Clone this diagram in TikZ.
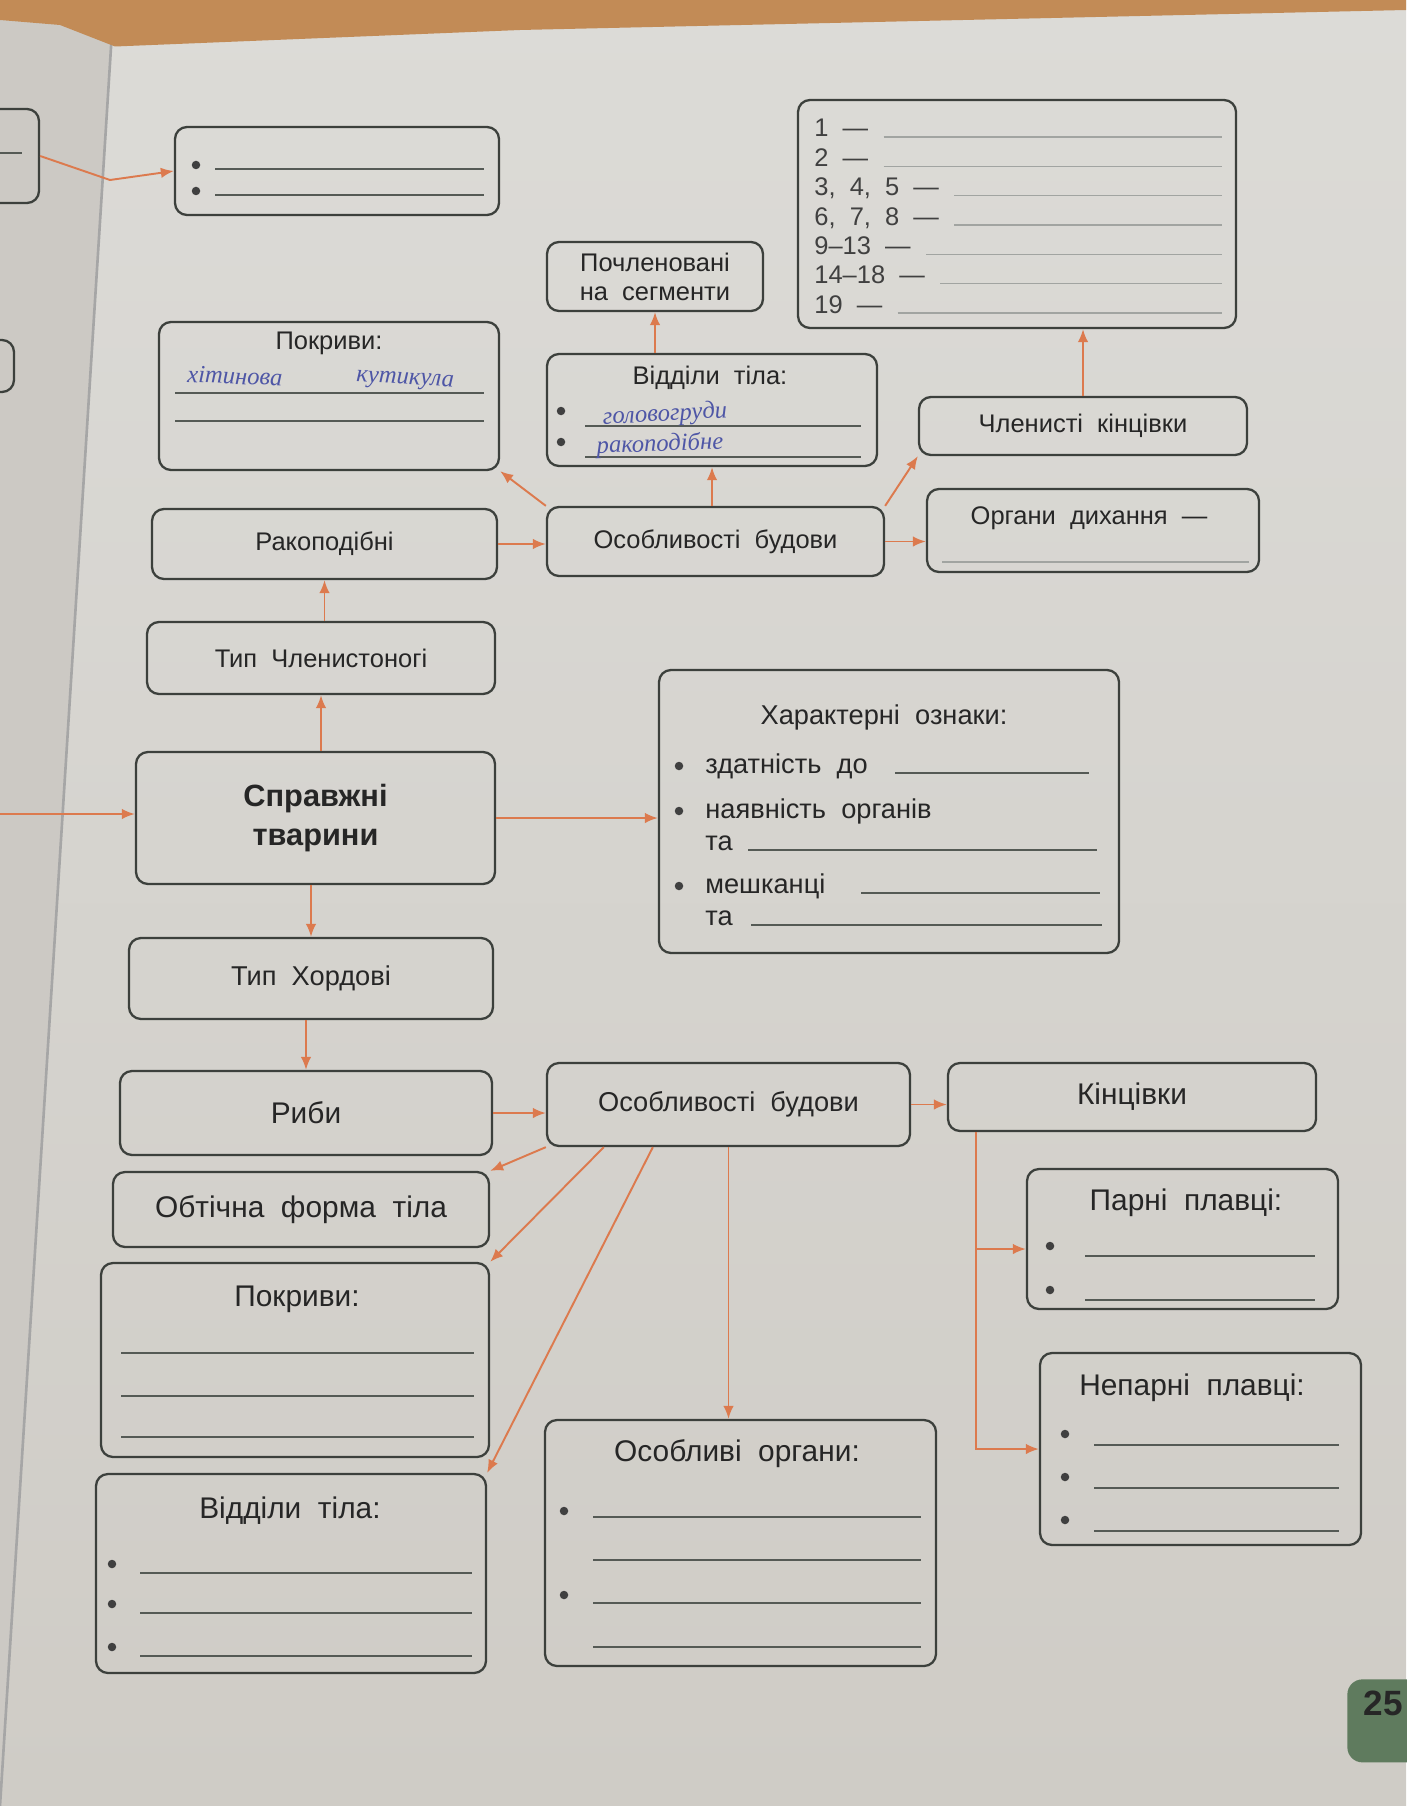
\documentclass[tikz,border=0pt]{standalone}
\usepackage{fontspec}
\setmainfont{Liberation Sans}[WordSpace=2]
\newfontfamily\handfont{Liberation Serif}
\usepackage{xcolor}
\usetikzlibrary{shapes,arrows,arrows.meta,positioning}

\definecolor{pagetop}{HTML}{DCDBD7}
\definecolor{pagebot}{HTML}{CFCCC6}
\definecolor{leftpage}{HTML}{CCC9C4}
\definecolor{woodbrown}{HTML}{C28B56}
\definecolor{boxline}{HTML}{3C403C}
\definecolor{arrowor}{HTML}{DC7A4E}
\definecolor{blankgray}{HTML}{555A55}
\definecolor{inkblue}{HTML}{4E56A6}
\definecolor{tabgreen}{HTML}{5F7B5E}

\newcommand\topsize{\fontsize{14.5}{16.5}\selectfont}
\newcommand\midsize{\fontsize{15.5}{18.5}\selectfont}
\newcommand\botsize{\fontsize{17}{20}\selectfont}

\begin{document}
\begin{tikzpicture}[
        block/.style={rectangle, rounded corners=0.24cm, draw=boxline, line width=1.3pt, text=black!85, inner sep=2pt, font=\topsize},
        midblock/.style={block, font=\midsize},
        botblock/.style={block, font=\botsize},
        boxtitle/.style={text=black!85, inner sep=0pt, font=\botsize},
        rowtext/.style={text=black!85, inner sep=0pt, anchor=base west, font=\midsize},
        numrow/.style={text=black!75, inner sep=0pt, anchor=base west, font=\topsize},
        bul/.style={circle, fill=black!75, inner sep=0pt, minimum size=0.17cm},
        handw/.style={text=inkblue, inner sep=0pt, font=\handfont\itshape\fontsize{14}{16}\selectfont},
        blank/.style={draw=blankgray, line width=0.7pt},
        arrow/.style={line width=1.1pt, ->, >={Latex[length=2.6mm,width=2.1mm]}, draw=arrowor}
    ]
        \useasboundingbox (0,0) rectangle (28.12,-36.12);

        % page, fold and table
        \shade[top color=pagetop, bottom color=pagebot] (0,0) rectangle (28.12,-36.12);
        \fill[leftpage] (0,0) -- (2.28,0) -- (0,-36.12) -- cycle;
        \draw[black!35, line width=1.5pt] (2.28,0) -- (0,-36.12);
        \fill[woodbrown] (0,0) -- (28.12,0) -- (28.12,-0.2) -- (10.4,-0.6) -- (2.3,-0.93) -- (1.2,-0.5) -- (0,-0.4) -- cycle;

        % left page
        \node[block, minimum width=2.56cm, minimum height=1.88cm] (prevbox) at (-0.5,-3.12) {};
        \node[block, minimum width=2.56cm, minimum height=1.04cm] (prevbox2) at (-1,-7.32) {};
        \draw[blank] (-0.2,-3.06) -- (0.44,-3.06);
        \coordinate (fold) at (2.2,-3.6);
        \coordinate (inleft) at (0,-16.28);

        % top bullets
        \node[block, minimum width=6.48cm, minimum height=1.76cm] (bulbox) at (6.74,-3.42) {};
        \foreach \y [count=\i] in {3.30,3.82} {
            \node[bul] (topbul\i) at (3.92,-\y) {};
            \draw[blank] (4.30,-\y-0.08) -- (9.68,-\y-0.08);
        }

        % numbered parts
        \node[block, minimum width=8.76cm, minimum height=4.56cm] (numbox) at (20.34,-4.28) {};
        \foreach \lbl [count=\i] in {1 —, 2 —, {3, 4, 5 —}, {6, 7, 8 —}, 9–13 —, 14–18 —, 19 —} {
            \node[numrow] (row\i) at (16.28,{-2.74-0.587*(\i-1)}) {\lbl};
            \draw[blank, draw=blankgray!55, shorten >=0.3cm] ([xshift=0.3cm]row\i.base east) -- (numbox.east |- row\i.base);
        }

        % arthropods
        \node[block, align=center, minimum width=4.32cm, minimum height=1.38cm] (segm) at (13.10,-5.53) {Почленовані\\на сегменти};

        \node[block, minimum width=6.80cm, minimum height=2.96cm] (pokr1) at (6.58,-7.92) {};
        \node[boxtitle, font=\topsize] (pokr1-t) at (6.58,-6.86) {Покриви:};
        \draw[blank] (3.50,-7.86) -- (9.68,-7.86);
        \draw[blank] (3.50,-8.42) -- (9.68,-8.42);
        \node[handw, rotate=-2] (pokr1-h1) at (4.70,-7.52) {хітинова};
        \node[handw, rotate=-3] (pokr1-h2) at (8.10,-7.62) {кутикула};

        \node[block, minimum width=6.60cm, minimum height=2.24cm] (viddil1) at (14.24,-8.20) {};
        \node[boxtitle, font=\topsize] (viddil1-t) at (14.20,-7.56) {Відділи тіла:};
        \node[bul] (vbul1) at (11.22,-8.22) {};
        \node[bul] (vbul2) at (11.22,-8.84) {};
        \draw[blank] (11.70,-8.52) -- (17.22,-8.52);
        \draw[blank] (11.70,-9.14) -- (17.22,-9.14);
        \node[handw, rotate=3] (viddil1-h1) at (13.30,-8.30) {головогруди};
        \node[handw, rotate=2] (viddil1-h2) at (13.20,-8.90) {ракоподібне};

        \node[block, minimum width=6.56cm, minimum height=1.16cm] (klenkin) at (21.66,-8.52) {Членисті кінцівки};

        \node[block, minimum width=6.64cm, minimum height=1.66cm] (dykh) at (21.86,-10.61) {};
        \node[boxtitle, font=\topsize] (dykh-t) at (21.78,-10.36) {Органи дихання —};
        \draw[blank, draw=blankgray!55] (18.84,-11.24) -- (24.98,-11.24);

        \node[block, minimum width=6.90cm, minimum height=1.40cm] (rakop) at (6.49,-10.88) {Ракоподібні};
        \node[block, minimum width=6.74cm, minimum height=1.38cm] (osob1) at (14.31,-10.83) {Особливості будови};
        \node[block, minimum width=6.96cm, minimum height=1.44cm] (tchlen) at (6.42,-13.16) {Тип Членистоногі};

        % true animals
        \node[block, align=center, minimum width=7.18cm, minimum height=2.64cm, font=\bfseries\fontsize{17.5}{22}\selectfont] (spravzh) at (6.31,-16.36) {Справжні\\тварини};

        \node[block, minimum width=9.20cm, minimum height=5.66cm] (kharakt) at (17.78,-16.23) {};
        \node[boxtitle, font=\midsize] (kharakt-t) at (17.68,-14.34) {Характерні ознаки:};
        \node[rowtext] (kh1) at (14.10,-15.46) {здатність до};
        \node[rowtext] (kh2) at (14.10,-16.36) {наявність органів};
        \node[rowtext] (kh3) at (14.10,-17.00) {та};
        \node[rowtext] (kh4) at (14.10,-17.86) {мешканці};
        \node[rowtext] (kh5) at (14.10,-18.50) {та};
        \node[bul] (khbul1) at (13.58,-15.32) {};
        \node[bul] (khbul2) at (13.58,-16.22) {};
        \node[bul] (khbul3) at (13.58,-17.72) {};
        \draw[blank] (17.90,-15.46) -- (21.78,-15.46);
        \draw[blank] (14.96,-17.00) -- (21.94,-17.00);
        \draw[blank] (17.22,-17.86) -- (22.00,-17.86);
        \draw[blank] (15.02,-18.50) -- (22.04,-18.50);

        % chordates
        \node[midblock, minimum width=7.28cm, minimum height=1.62cm] (thord) at (6.22,-19.57) {Тип Хордові};
        \node[botblock, minimum width=7.44cm, minimum height=1.68cm] (ryby) at (6.12,-22.26) {Риби};
        \node[midblock, minimum width=7.26cm, minimum height=1.66cm] (osob2) at (14.57,-22.09) {Особливості будови};
        \node[botblock, minimum width=7.36cm, minimum height=1.36cm] (kinc) at (22.64,-21.94) {Кінцівки};
        \node[botblock, minimum width=7.52cm, minimum height=1.50cm] (obtich) at (6.02,-24.19) {Обтічна форма тіла};

        \node[block, minimum width=7.76cm, minimum height=3.88cm] (pokr2) at (5.90,-27.20) {};
        \node[boxtitle] (pokr2-t) at (5.94,-25.98) {Покриви:};
        \foreach \y in {27.06,27.92,28.74}
            \draw[blank] (2.42,-\y) -- (9.48,-\y);

        \node[block, minimum width=6.22cm, minimum height=2.80cm] (parni) at (23.65,-24.78) {};
        \node[boxtitle] (parni-t) at (23.72,-24.06) {Парні плавці:};
        \foreach \y [count=\i] in {24.92,25.80} {
            \node[bul] (pbul\i) at (21.00,-\y) {};
            \draw[blank] (21.70,-\y-0.2) -- (26.30,-\y-0.2);
        }

        \node[block, minimum width=6.42cm, minimum height=3.84cm] (neparni) at (24.01,-28.98) {};
        \node[boxtitle] (neparni-t) at (23.84,-27.76) {Непарні плавці:};
        \foreach \y [count=\i] in {28.68,29.54,30.40} {
            \node[bul] (nbul\i) at (21.30,-\y) {};
            \draw[blank] (21.88,-\y-0.22) -- (26.78,-\y-0.22);
        }

        \node[block, minimum width=7.80cm, minimum height=3.98cm] (viddil2) at (5.82,-31.47) {};
        \node[boxtitle] (viddil2-t) at (5.80,-30.22) {Відділи тіла:};
        \foreach \y [count=\i] in {31.28,32.08,32.94} {
            \node[bul] (dbul\i) at (2.24,-\y) {};
            \draw[blank] (2.80,-\y-0.18) -- (9.44,-\y-0.18);
        }

        \node[block, minimum width=7.82cm, minimum height=4.92cm] (osobliv) at (14.81,-30.86) {};
        \node[boxtitle] (osobliv-t) at (14.74,-29.08) {Особливі органи:};
        \node[bul] (obul1) at (11.28,-30.22) {};
        \node[bul] (obul2) at (11.28,-31.90) {};
        \foreach \y in {30.34,31.20,32.06,32.94}
            \draw[blank] (11.86,-\y) -- (18.42,-\y);

        % page number
        \node[rounded corners=0.3cm, fill=tabgreen, minimum width=2cm, minimum height=1.66cm, anchor=north west] (pagetab) at (26.94,-33.58) {};
        \node[font=\bfseries\fontsize{20}{22}\selectfont, text=black!85, anchor=east, inner sep=0pt] (pagenum) at (28.06,-34.06) {25};

        % Connections
        \draw[arrow] (prevbox.east) -- (fold) -- (bulbox.west);
        \draw[arrow] (inleft) -- (inleft -| spravzh.west);
        \draw[arrow] (tchlen.south |- spravzh.north) -- (tchlen.south);
        \draw[arrow] (rakop.south |- tchlen.north) -- (rakop.south);
        \draw[arrow] (rakop.east) -- (rakop.east -| osob1.west);
        \draw[arrow] (osob1.north west) -- (pokr1.south east);
        \draw[arrow] (osob1.north -| viddil1.south) -- (viddil1.south);
        \draw[arrow] (segm.south |- viddil1.north) -- (segm.south);
        \draw[arrow] (osob1.north east) -- (klenkin.south west);
        \draw[arrow] (klenkin.north) -- (klenkin.north |- numbox.south);
        \draw[arrow] (osob1.east) -- (osob1.east -| dykh.west);
        \draw[arrow] (spravzh.east) -- (spravzh.east -| kharakt.west);
        \draw[arrow] (thord.north |- spravzh.south) -- (thord.north);
        \draw[arrow] (ryby.north |- thord.south) -- (ryby.north);
        \draw[arrow] (ryby.east) -- (ryby.east -| osob2.west);
        \draw[arrow] (osob2.east) -- (osob2.east -| kinc.west);
        \draw[arrow] (osob2.south west) -- (obtich.north east);
        \draw[arrow] ([xshift=1.16cm]osob2.south west) -- (pokr2.north east);
        \draw[arrow] ([xshift=2.14cm]osob2.south west) -- (viddil2.north east);
        \draw[arrow] (osob2.south) -- (osob2.south |- osobliv.north);
        \coordinate (kincb) at ([xshift=0.58cm]kinc.south west);
        \draw[arrow] (kincb) |- ([yshift=-0.2cm]parni.west);
        \draw[arrow] (kincb) |- (neparni.west);
    \end{tikzpicture}
\end{document}
